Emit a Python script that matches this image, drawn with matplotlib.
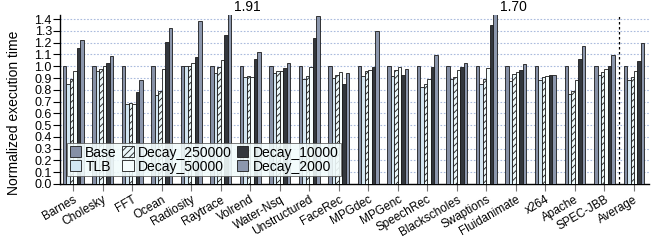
import matplotlib
matplotlib.use("Agg")
import matplotlib.pyplot as plt
import numpy as np

plt.rcParams["font.family"] = ["Liberation Sans", "DejaVu Sans"]
plt.rcParams["hatch.linewidth"] = 0.6

benchmarks = ["Barnes", "Cholesky", "FFT", "Ocean", "Radiosity", "Raytrace",
              "Volrend", "Water-Nsq", "Unstructured", "FaceRec", "MPGdec",
              "MPGenc", "SpeechRec", "Blackscholes", "Swaptions",
              "Fluidanimate", "x264", "Apache", "SPEC-JBB", "Average"]

base = [1.0] * 20
tlb = [0.85, 0.963, 0.68, 0.76, 1.0, 0.94, 0.906, 0.946, 0.892, 0.90,
       0.915, 0.92, 0.825, 0.889, 0.847, 0.872, 0.88, 0.767, 0.923, 0.88]
decay_250000 = [0.895, 0.98, 0.685, 0.787, 1.005, 0.997, 0.918, 0.96, 0.92, 0.926,
                0.963, 0.972, 0.85, 0.912, 0.895, 0.935, 0.909, 0.787, 0.952, 0.909]
decay_50000 = [0.963, 1.005, 0.68, 0.977, 1.03, 1.057, 0.909, 0.963, 0.99, 0.952,
               0.972, 0.997, 0.895, 0.972, 0.986, 0.955, 0.918, 0.88, 0.974, 0.957]
decay_10000 = [1.153, 1.03, 0.785, 1.21, 1.075, 1.264, 1.065, 0.989, 1.236, 0.852,
               0.991, 0.923, 0.991, 0.991, 1.35, 0.972, 0.929, 1.06, 1.006, 1.045]
decay_2000 = [1.22, 1.09, 0.88, 1.327, 1.383, 1.91, 1.119, 1.026, 1.43, 0.946,
              1.298, 0.98, 1.094, 1.026, 1.70, 1.02, 0.929, 1.17, 1.094, 1.196]

series = [
    ("Base", base, "#8690a6", None),
    ("TLB", tlb, "#d3e6f2", None),
    ("Decay_250000", decay_250000, "#eaf6f8", "/////"),
    ("Decay_50000", decay_50000, "#f6fdfd", None),
    ("Decay_10000", decay_10000, "#33373d", None),
    ("Decay_2000", decay_2000, "#8c97ad", None),
]

YMAX = 1.435

fig = plt.figure(figsize=(6.54, 2.43), dpi=100)
ax = fig.add_axes([0.092, 0.243, 0.9, 0.695])

x = np.arange(len(benchmarks))
width = 0.118
for i, (name, vals, color, hatch) in enumerate(series):
    ax.bar(x + (i - 2.5) * width, vals, width, color=color, edgecolor="#1a1a1a",
           linewidth=0.6, hatch=hatch, label=name, zorder=3)

# labels for the bars that run off the top
for j, v in enumerate(decay_2000):
    if v > YMAX:
        ax.text(x[j] + 2.5 * width + 0.17, YMAX + 0.01, f"{v:.2f}",
                fontsize=10, ha="left", va="bottom")

ax.axvline(18.5, color="black", linestyle=(0, (2, 2)), linewidth=0.9, zorder=4)

ax.set_xlim(-0.44, 19.5)
ax.set_ylim(0, YMAX)
ax.set_yticks(np.arange(0, 1.41, 0.1))
ax.set_yticklabels([f"{t:.1f}" for t in np.arange(0, 1.41, 0.1)], fontsize=9)
ax.tick_params(axis="y", length=5, width=0.8, pad=1)
ax.set_xticks(x)
ax.set_xticklabels(benchmarks, rotation=30, ha="right", rotation_mode="anchor",
                   fontsize=8.5)
ax.tick_params(axis="x", length=5, color="#777777", pad=2)
ax.set_ylabel("Normalized execution time", fontsize=10)
ax.yaxis.set_label_coords(-0.066, 0.42)
ax.grid(axis="y", color="#aabbdd", linestyle=(0, (1.5, 1.5)), linewidth=0.8, zorder=0)

for s in ("top", "right"):
    ax.spines[s].set_visible(False)
ax.spines["left"].set_linewidth(1.0)
ax.spines["bottom"].set_linewidth(1.0)

leg = ax.legend(ncol=3, loc="lower left", bbox_to_anchor=(0.012, 0.045),
                fontsize=10, handlelength=0.8, handleheight=0.8, handletextpad=0.3,
                columnspacing=0.4, labelspacing=0.0, borderpad=0.2,
                frameon=True, fancybox=False, borderaxespad=0)
leg.get_frame().set_facecolor("#f2fcfc")
leg.get_frame().set_edgecolor("#555555")
leg.get_frame().set_linewidth(0.6)
leg.get_frame().set_alpha(0.9)
leg.set_zorder(5)

fig.savefig("out.png", dpi=100)
